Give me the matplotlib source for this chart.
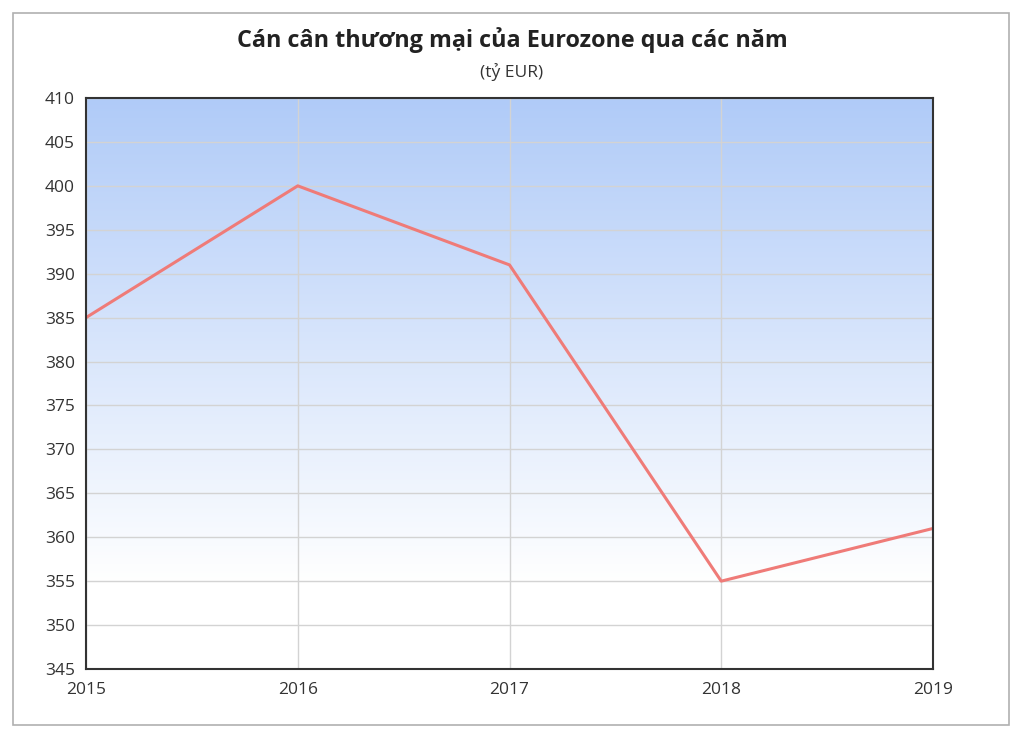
import matplotlib
matplotlib.use("Agg")
import matplotlib.pyplot as plt
import numpy as np
from matplotlib.patches import Rectangle

# data
years = [2015, 2016, 2017, 2018, 2019]
balance = [385, 400, 391, 355, 361]
y_ticks = list(range(345, 411, 5))

plt.rcParams['font.family'] = ['Open Sans', 'DejaVu Sans']

fig = plt.figure(figsize=(10.24, 7.37), dpi=100)
ax = fig.add_axes([86/1024, 1 - 669/737, (933-86)/1024, (669-98)/737])

# outer frame around the whole chart
fig.patches.append(Rectangle((13/1024, 1 - 725/737), (1009-13)/1024, (725-13)/737,
                             transform=fig.transFigure, fill=False,
                             edgecolor='#b0b0b0', linewidth=1.2))

# vertical gradient background: light blue at top -> white near the bottom
grad = np.linspace(0, 1, 256).reshape(-1, 1)
top = np.array([0xb0, 0xcb, 0xf8]) / 255
bottom = np.array([1.0, 1.0, 1.0])
t = np.clip((grad - 0.15) / 0.85, 0, 1)
colors = bottom + (top - bottom) * t
img = colors.reshape(256, 1, 3)
ax.imshow(img, extent=[years[0], years[-1], 345, 410], origin='lower',
          aspect='auto', zorder=0)

ax.set_xlim(years[0], years[-1])
ax.set_ylim(345, 410)
ax.set_xticks(years)
ax.set_yticks(y_ticks)
ax.grid(True, color='#d3d3d3', linewidth=1, zorder=1)
ax.set_axisbelow(False)

ax.plot(years, balance, color='#ef7b78', linewidth=2.2, zorder=3)

for s in ax.spines.values():
    s.set_color('#333333')
    s.set_linewidth(1.5)
    s.set_zorder(4)

ax.tick_params(length=0, labelsize=12.5, colors='#333333', pad=8)
ax.tick_params(axis='x', pad=9)

fig.text(0.5, 1 - 40/737, 'Cán cân thương mại của Eurozone qua các năm',
         ha='center', va='center', fontsize=16.8, fontweight='bold', color='#222222')
fig.text(0.5, 1 - 72/737, '(tỷ EUR)', ha='center', va='center',
         fontsize=12.5, color='#333333')

fig.savefig('out.png', dpi=100)
